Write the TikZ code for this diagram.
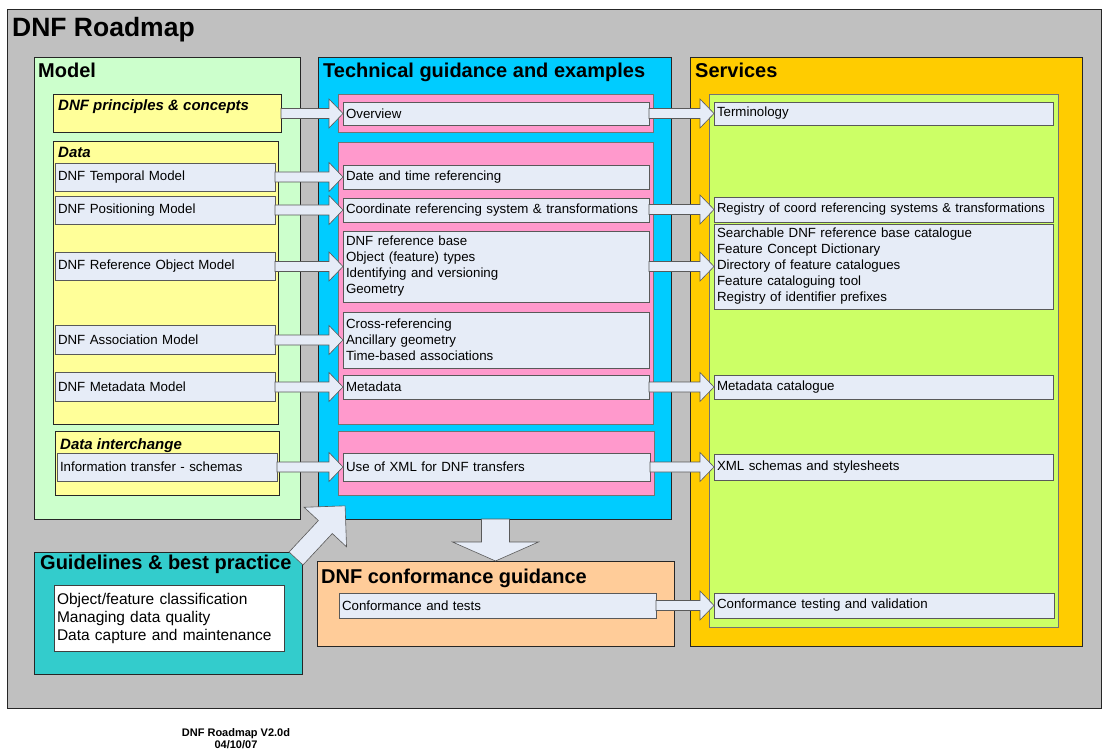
\documentclass[tikz,border=0pt]{standalone}
\usepackage{fontspec}
\setmainfont{Liberation Sans}
\usetikzlibrary{calc}

\definecolor{framegray}{HTML}{C0C0C0}
\definecolor{modelgreen}{HTML}{CCFFCC}
\definecolor{noteyellow}{HTML}{FFFF99}
\definecolor{itemblue}{HTML}{E6ECF7}
\definecolor{techcyan}{HTML}{00CCFF}
\definecolor{techpink}{HTML}{FF99CC}
\definecolor{servorange}{HTML}{FFCC00}
\definecolor{servlime}{HTML}{CCFF66}
\definecolor{guideteal}{HTML}{33CCCC}
\definecolor{confpeach}{HTML}{FFCC99}

\newcommand{\itembox}[7][]{%
  \pgfmathsetmacro{\itemtw}{#5-6}%
  \node[item, #1, minimum width=#5, minimum height=#6, text width=\itemtw pt] (#2) at (#3,#4) {#7};}
\newcommand{\flowarrow}[2]{%
  \draw[blockarrow] ($(#1.east |- #2.west)+(0,-5)$) -- ($(#2.west)+(-14,-5)$)
    -- ($(#2.west)+(-14,-14.5)$) -- (#2.west) -- ($(#2.west)+(-14,14.5)$)
    -- ($(#2.west)+(-14,5)$) -- ($(#1.east |- #2.west)+(0,5)$) -- cycle;}

\begin{document}
\begin{tikzpicture}[x=1pt,y=-1pt,
  panel/.style={draw=black!85, line width=0.8pt, anchor=north west, inner sep=0pt, outer sep=0pt},
  inner/.style={panel, draw=black!55},
  item/.style={panel, draw=black!65, fill=itemblue, inner xsep=3pt, align=left,
    font=\fontsize{13.3}{16}\selectfont},
  head/.style={anchor=base west, inner sep=0pt, font=\fontsize{20}{24}\selectfont\bfseries},
  subhead/.style={anchor=base west, inner sep=0pt, font=\fontsize{15}{18}\selectfont\bfseries\itshape},
  blockarrow/.style={draw=black!65, fill=itemblue, line width=0.6pt, line join=miter}]

  \useasboundingbox (0,0) rectangle (1103,751);
  \node[panel, fill=framegray, minimum width=1094, minimum height=699] (frame) at (7,9) {};
  \node[anchor=base west, inner sep=0pt, font=\fontsize{26.5}{30}\selectfont\bfseries] (title) at (12,37) {DNF Roadmap};

  % model
  \node[panel, fill=modelgreen, minimum width=266, minimum height=462] (model) at (34,57) {};
  \node[head] (modelhead) at (38,78) {Model};
  \node[inner, draw=black!85, fill=noteyellow, minimum width=228, minimum height=38] (princ) at (53,94) {};
  \node[subhead] (princhead) at (58,111) {DNF principles \& concepts};
  \node[inner, draw=black!85, fill=noteyellow, minimum width=225, minimum height=283] (data) at (53,141) {};
  \node[subhead] (datahead) at (58,158) {Data};
  \itembox{temporal}{55}{163}{220}{28}{DNF Temporal Model}
  \itembox{positioning}{55}{196}{220}{28}{DNF Positioning Model}
  \itembox{refobj}{55}{252}{220}{28}{DNF Reference Object Model}
  \itembox{assoc}{55}{325}{220}{29}{DNF Association Model}
  \itembox{metamodel}{55}{372}{220}{29}{DNF Metadata Model}
  \node[inner, draw=black!85, fill=noteyellow, minimum width=224, minimum height=64] (interchange) at (55,431) {};
  \node[subhead] (interhead) at (60,449) {Data interchange};
  \itembox{infotrans}{57}{453}{220}{28}{Information transfer - schemas}

  % technical guidance
  \node[panel, fill=techcyan, minimum width=353, minimum height=462] (tech) at (318,57) {};
  \node[head] (techhead) at (323,78) {Technical guidance and examples};
  \node[inner, fill=techpink, minimum width=315, minimum height=38] (pinktop) at (338,94) {};
  \node[inner, fill=techpink, minimum width=315, minimum height=282] (pinkmid) at (338,142) {};
  \node[inner, fill=techpink, minimum width=316, minimum height=64] (pinklow) at (338,431) {};
  \itembox{overview}{343}{102}{306}{23}{Overview}
  \itembox{datetime}{343}{165}{306}{24}{Date and time referencing}
  \itembox{coordref}{343}{198}{306}{24}{Coordinate referencing system \& transformations}
  \itembox{refbase}{343}{231}{306}{71}{DNF reference base\\Object (feature) types\\Identifying and versioning\\Geometry}
  \itembox{crossref}{343}{312}{306}{56}{Cross-referencing\\Ancillary geometry\\Time-based associations}
  \itembox{metadata}{343}{375}{306}{24}{Metadata}
  \itembox{xmluse}{343}{453}{307}{28}{Use of XML for DNF transfers}

  % services
  \node[panel, fill=servorange, minimum width=392, minimum height=589] (services) at (690,57) {};
  \node[head] (servhead) at (695,78) {Services};
  \node[inner, fill=servlime, minimum width=349, minimum height=533] (lime) at (709,94) {};
  \itembox{terminology}{714}{102}{339}{23}{Terminology}
  \itembox[font=\fontsize{13}{16}\selectfont]{registry}{714}{197}{339}{25}{Registry of coord referencing systems \& transformations}
  \itembox{catalogue}{714}{224}{339}{85}{Searchable DNF reference base catalogue\\Feature Concept Dictionary\\Directory of feature catalogues\\Feature cataloguing tool\\Registry of identifier prefixes}
  \itembox{metacat}{714}{375}{339}{24}{Metadata catalogue}
  \itembox{xmlschemas}{714}{454}{339}{26}{XML schemas and stylesheets}
  \itembox{conftest}{714}{593}{340}{25}{Conformance testing and validation}

  % guidelines and conformance
  \node[panel, fill=guideteal, minimum width=268, minimum height=122] (guide) at (34,552) {};
  \node[head] (guidehead) at (40,569) {Guidelines \& best practice};
  \itembox[fill=white, draw=black!75, font=\fontsize{15.5}{18}\selectfont]{guidetext}{54}{585}{230}{66}{Object/feature classification\\Managing data quality\\Data capture and maintenance}
  \node[panel, fill=confpeach, minimum width=357, minimum height=85] (conform) at (317,561) {};
  \node[head] (confhead) at (321,583) {DNF conformance guidance};
  \itembox{conftests}{339}{593}{317}{25}{Conformance and tests}

  \foreach \a/\b in {princ/overview, temporal/datetime, positioning/coordref, refobj/refbase,
      assoc/crossref, metamodel/metadata, infotrans/xmluse, overview/terminology,
      coordref/registry, refbase/catalogue, metadata/metacat, xmluse/xmlschemas,
      conftests/conftest}
    \flowarrow{\a}{\b};

  \draw[blockarrow] (conform.north) -- ++(-43,-19) -- ++(29,0) -- ++(0,-23) -- ++(28,0)
    -- ++(0,23) -- ++(29,0) -- cycle;
  \begin{scope}[shift={($(guide.north east)+(-6,6.5)$)}, rotate=47]
    \draw[blockarrow] (0,-9.5) -- (43,-9.5) -- (43,-29) -- (72,0) -- (43,29) -- (43,9.5) -- (0,9.5) -- cycle;
  \end{scope}

  \node[font=\fontsize{11}{12}\selectfont\bfseries, align=center] (footer) at (236,739) {DNF Roadmap V2.0d\\04/10/07};
\end{tikzpicture}
\end{document}
